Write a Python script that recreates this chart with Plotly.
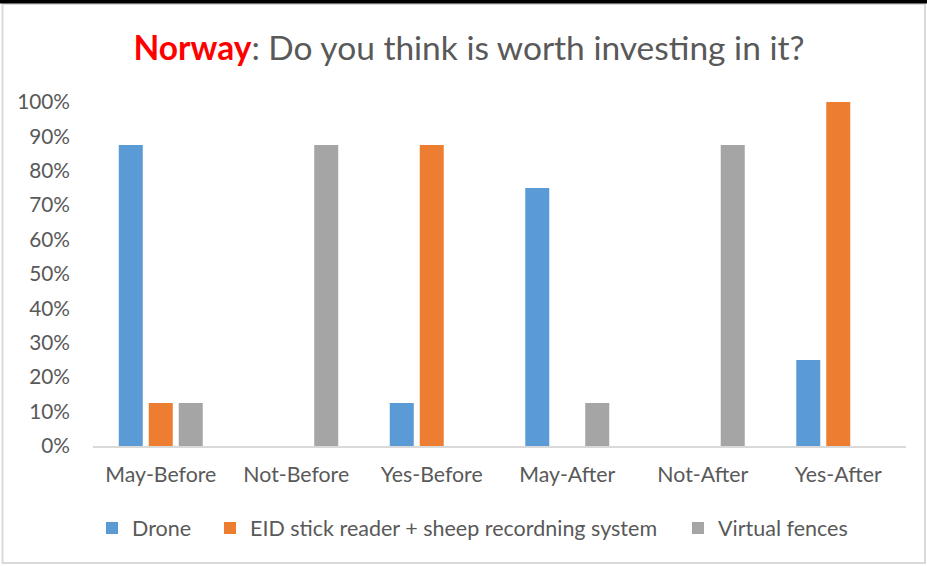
import plotly.graph_objects as go

categories = ["May-Before", "Not-Before", "Yes-Before", "May-After", "Not-After", "Yes-After"]
drone = [0.875, 0, 0.125, 0.75, 0, 0.25]
eid = [0.125, 0, 0.875, 0, 0, 1.0]
fences = [0.125, 0.875, 0, 0.125, 0.875, 0]

series = [
    ("Drone", drone, "#5B9BD5"),
    ("EID stick reader + sheep recordning system", eid, "#ED7D31"),
    ("Virtual fences", fences, "#A5A5A5"),
]
# left pixel where each legend entry should start (one legend per series)
legend_px = [92, 210, 678]

W, H = 927, 566
L, R, T, B = 93, 21, 102, 120
pw, ph = W - L - R, H - T - B


def px_x(px):
    return (px - L) / pw


def px_y(py):
    return (H - B - py) / ph


font = "Lato, 'Open Sans', sans-serif"
fig = go.Figure()
legends = {}
for i, (name, vals, color) in enumerate(series):
    key = "legend" if i == 0 else f"legend{i + 1}"
    fig.add_trace(go.Bar(x=categories, y=vals, name=name, legend=key, showlegend=True,
                         marker=dict(color=color, line=dict(width=0))))
    legends[key] = dict(
        x=px_x(legend_px[i]),
        xanchor="left",
        y=px_y(528),
        yanchor="middle",
        font=dict(size=21.5, color="#595959", family=font),
        itemwidth=30,
        bgcolor="rgba(0,0,0,0)",
    )

fig.update_layout(
    width=W,
    height=H,
    margin=dict(l=L, r=R, t=T, b=B),
    paper_bgcolor="white",
    plot_bgcolor="white",
    showlegend=True,
    barmode="group",
    bargap=0.336,
    bargroupgap=0.2,
    font=dict(family=font, size=21, color="#595959"),
    title=dict(
        text="<b><span style='color:#FF0000'>Norway</span></b>: Do you think is worth investing in it?",
        x=469 / W,
        xanchor="center",
        y=1 - 48 / H,
        yanchor="middle",
        font=dict(size=33.5, color="#595959", family=font),
    ),
    xaxis=dict(
        showgrid=False,
        showline=True,
        linecolor="#D9D9D9",
        linewidth=1.5,
        ticks="",
        ticklabelstandoff=9,
        tickfont=dict(size=21.3, color="#595959"),
    ),
    yaxis=dict(
        range=[0, 1],
        tickvals=[i / 10 for i in range(11)],
        tickformat=".0%",
        showgrid=False,
        zeroline=False,
        showline=False,
        ticks="",
        ticklabelstandoff=22,
        tickfont=dict(size=20.8, color="#595959"),
    ),
    shapes=[
        dict(type="rect", xref="paper", yref="paper",
             x0=px_x(2.5), x1=px_x(925), y0=px_y(563), y1=px_y(4),
             line=dict(color="#D9D9D9", width=2), fillcolor="rgba(0,0,0,0)", layer="below"),
        dict(type="rect", xref="paper", yref="paper",
             x0=px_x(0), x1=px_x(W), y0=px_y(3.5), y1=px_y(0),
             line=dict(width=0), fillcolor="black"),
    ],
    **legends,
)

fig.write_html("out.html", config={"displayModeBar": False},
               post_script="document.body.style.margin='0';")
